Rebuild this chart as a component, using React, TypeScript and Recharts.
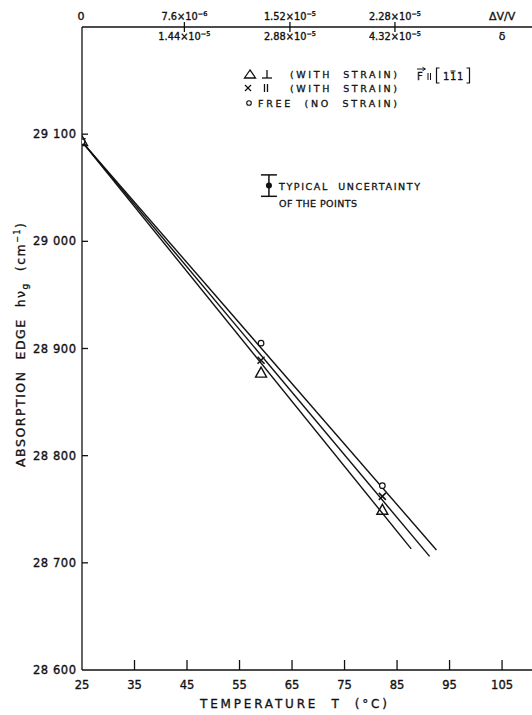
import React from 'react';
import { ComposedChart, Line, Scatter, XAxis, YAxis, ErrorBar } from 'recharts';

const FONT = '"DejaVu Sans", "Liberation Sans", sans-serif';
const INK = '#111';

// Bottom axis: temperature T (°C)
const tempDomain = [25, 110.7];
const tempTicks = [25, 35, 45, 55, 65, 75, 85, 95, 105];

// Left axis: absorption edge h nu_g (cm^-1)
const edgeDomain = [28600, 29200];
const edgeTicks = [28600, 28700, 28800, 28900, 29000, 29100];
const edgeTickLabels = ['28 600', '28 700', '28 800', '28 900', '29 000', '29 100'];

// Top auxiliary scale (ΔV/V upper row, δ lower row), placed at temperatures
const topTickTemps = [25, 44.5, 64.6, 84.6, 105];
const dvvMantissa = ['0', '7.6×10', '1.52×10', '2.28×10', 'ΔV/V'];
const dvvExponent = ['', '−6', '−5', '−5', ''];
const deltaMantissa = ['', '1.44×10', '2.88×10', '4.32×10', 'δ'];
const deltaExponent = ['', '−5', '−5', '−5', ''];

// Straight lines through the points
const perpLineT = [25, 87.7];
const perpLineE = [29093, 28713];
const parLineT = [25, 91.2];
const parLineE = [29093, 28706];
const freeLineT = [25, 92.5];
const freeLineE = [29093, 28712];

// Measured points
const pointT = [25, 59.1, 82.2];
const perpPoints = [29093, 28877, 28749];
const parPoints = [29093, 28889, 28762];
const freePoints = [29093, 28905, 28772];

// Typical uncertainty marker
const uncT = [60.6];
const uncE = [29052];
const uncErr = [10];

const mk = (ts: number[], es: number[]) => ts.map((t, i) => ({ t, e: es[i] }));
const perpLine = mk(perpLineT, perpLineE);
const parLine = mk(parLineT, parLineE);
const freeLine = mk(freeLineT, freeLineE);
const perpData = mk(pointT, perpPoints);
const parData = mk(pointT, parPoints);
const freeData = mk(pointT, freePoints);
const uncData = uncT.map((t, i) => ({ t, e: uncE[i], err: uncErr[i] }));

const BOLDEN = { stroke: INK, strokeWidth: 0.35 } as const;

const BottomTick = (p: any) => {
  const { x, y, payload } = p;
  return (
    <g>
      {payload.value !== tempTicks[0] && (
        <line x1={x} x2={x} y1={y} y2={y - 10} stroke={INK} strokeWidth={1.3} />
      )}
      <text x={x} y={y + 19} textAnchor="middle" fontFamily={FONT} fontSize={11.5} fill={INK} {...BOLDEN}>
        {payload.value}
      </text>
    </g>
  );
};

const LeftTick = (p: any) => {
  const { x, y, payload } = p;
  const i = edgeTicks.indexOf(payload.value);
  return (
    <g>
      {i > 0 && <line x1={x} x2={x + 6} y1={y} y2={y} stroke={INK} strokeWidth={1.3} />}
      <text x={x - 6} y={y + 4} textAnchor="end" fontFamily={FONT} fontSize={11.5} fill={INK}
        textLength={43} lengthAdjust="spacing" {...BOLDEN}>
        {edgeTickLabels[i]}
      </text>
    </g>
  );
};

const RightTick = (p: any) => {
  const { x, y } = p;
  return <line x1={x - 5} x2={x} y1={y} y2={y} stroke={INK} strokeWidth={1.3} />;
};

const TopTick = (p: any) => {
  const { x, y, payload } = p;
  const i = topTickTemps.indexOf(payload.value);
  const last = i === topTickTemps.length - 1;
  const mid = i > 0 && !last;
  const big = i === 0 || last;
  return (
    <g>
      {mid && <line x1={x} x2={x} y1={y - 5} y2={y + 5} stroke={INK} strokeWidth={1.3} />}
      <text x={i === 0 ? x - 1 : x} y={y - 7} textAnchor="middle" fontFamily={FONT}
        fontSize={big ? 11 : 9.8} fill={INK} {...BOLDEN}>
        {dvvMantissa[i]}
        {dvvExponent[i] && <tspan dy={-4} fontSize={6.5}>{dvvExponent[i]}</tspan>}
      </text>
      {deltaMantissa[i] && (
        <text x={x} y={y + 13} textAnchor="middle" fontFamily={FONT}
          fontSize={big ? 11 : 9.8} fill={INK} {...BOLDEN}>
          {deltaMantissa[i]}
          {deltaExponent[i] && <tspan dy={-4} fontSize={6.5}>{deltaExponent[i]}</tspan>}
        </text>
      )}
    </g>
  );
};

const Triangle = (p: any) => {
  const { cx, cy } = p;
  return (
    <polygon
      points={`${cx},${cy - 6} ${cx - 5.5},${cy + 4} ${cx + 5.5},${cy + 4}`}
      fill="none" stroke={INK} strokeWidth={1.4}
    />
  );
};
const Cross = (p: any) => {
  const { cx, cy } = p;
  return (
    <g stroke={INK} strokeWidth={1.5}>
      <line x1={cx - 3.5} y1={cy - 3.5} x2={cx + 3.5} y2={cy + 3.5} />
      <line x1={cx - 3.5} y1={cy + 3.5} x2={cx + 3.5} y2={cy - 3.5} />
    </g>
  );
};
const Ring = (p: any) => {
  const { cx, cy } = p;
  return <circle cx={cx} cy={cy} r={2.8} fill="#fff" stroke={INK} strokeWidth={1.2} />;
};
const Dot = (p: any) => {
  const { cx, cy } = p;
  return <circle cx={cx} cy={cy} r={3} fill={INK} />;
};

const txt = { fontFamily: FONT, fill: INK, stroke: INK, strokeWidth: 0.3 } as const;

export default function App() {
  return (
    <div style={{ position: 'absolute', left: 0, top: 0, width: 532, height: 715, background: '#fff' }}>
      <ComposedChart width={532} height={715} margin={{ top: 0, right: 0, bottom: 0, left: 0 }}>
        <XAxis
          dataKey="t" type="number" domain={tempDomain} ticks={tempTicks} interval={0}
          height={45} tickSize={0} tickMargin={0} tickLine={false} allowDataOverflow
          axisLine={{ stroke: INK, strokeWidth: 1.3 }} tick={(p: any) => <BottomTick {...p} />}
        />
        <XAxis
          xAxisId="top" dataKey="t" orientation="top" type="number" domain={tempDomain} ticks={topTickTemps}
          interval={0} height={27} tickSize={0} tickMargin={0} tickLine={false} allowDataOverflow
          axisLine={{ stroke: INK, strokeWidth: 1.3 }} tick={(p: any) => <TopTick {...p} />}
        />
        <YAxis
          dataKey="e" type="number" domain={edgeDomain} ticks={edgeTicks} interval={0}
          width={82} tickSize={0} tickMargin={0} tickLine={false} allowDataOverflow
          axisLine={{ stroke: INK, strokeWidth: 1.3 }} tick={(p: any) => <LeftTick {...p} />}
        />
        <YAxis
          yAxisId="right" dataKey="e" orientation="right" type="number" domain={edgeDomain}
          ticks={edgeTicks.slice(1)} interval={0} width={0} tickSize={0} tickMargin={0}
          tickLine={false} axisLine={false} allowDataOverflow tick={(p: any) => <RightTick {...p} />}
        />
        {/* invisible carrier so the top and right scales get a domain */}
        <Line data={perpLine} xAxisId="top" yAxisId="right" dataKey="e" type="linear" stroke="none" dot={false} isAnimationActive={false} />
        <Line data={perpLine} dataKey="e" type="linear" stroke={INK} strokeWidth={1.4} dot={false} isAnimationActive={false} />
        <Line data={parLine} dataKey="e" type="linear" stroke={INK} strokeWidth={1.4} dot={false} isAnimationActive={false} />
        <Line data={freeLine} dataKey="e" type="linear" stroke={INK} strokeWidth={1.4} dot={false} isAnimationActive={false} />
        <Scatter data={perpData} shape={(p: any) => <Triangle {...p} />} isAnimationActive={false} />
        <Scatter data={parData} shape={(p: any) => <Cross {...p} />} isAnimationActive={false} />
        <Scatter data={freeData} shape={(p: any) => <Ring {...p} />} isAnimationActive={false} />
        <Scatter data={uncData} shape={(p: any) => <Dot {...p} />} isAnimationActive={false}>
          <ErrorBar dataKey="err" direction="y" width={8} stroke={INK} strokeWidth={1.5} isAnimationActive={false} />
        </Scatter>
      </ComposedChart>
      <svg width={532} height={715} style={{ position: 'absolute', left: 0, top: 0, pointerEvents: 'none' }}>
        {/* Axis titles */}
        <text {...txt} transform="translate(25,345) rotate(-90)" textAnchor="middle" fontSize={12.5}
          textLength={244} lengthAdjust="spacing" style={{ whiteSpace: 'pre' }}>
          {'ABSORPTION  EDGE  hν'}
          <tspan dy={3} fontSize={9}>g</tspan>
          <tspan dy={-3}>{'  (cm'}</tspan>
          <tspan dy={-5} fontSize={8}>−1</tspan>
          <tspan dy={5}>)</tspan>
        </text>
        <text {...txt} x={200} y={708} fontSize={12} textLength={187} lengthAdjust="spacing"
          style={{ whiteSpace: 'pre' }}>
          {'TEMPERATURE  T  (°C)'}
        </text>

        {/* Legend */}
        <polygon points="250,70 244.5,78 255.5,78" fill="none" stroke={INK} strokeWidth={1.3} />
        <g stroke={INK} strokeWidth={1.3}>
          <line x1={267} y1={70} x2={267} y2={78} />
          <line x1={262} y1={78} x2={272} y2={78} />
        </g>
        <text {...txt} x={290} y={78} fontSize={9.5} textLength={107} lengthAdjust="spacing"
          style={{ whiteSpace: 'pre' }}>{'(WITH  STRAIN)'}</text>
        <g stroke={INK} strokeWidth={1.3}>
          <line x1={245} y1={85} x2={251} y2={91} />
          <line x1={245} y1={91} x2={251} y2={85} />
          <line x1={264.5} y1={84} x2={264.5} y2={92} />
          <line x1={267.5} y1={84} x2={267.5} y2={92} />
        </g>
        <text {...txt} x={290} y={92} fontSize={9.5} textLength={107} lengthAdjust="spacing"
          style={{ whiteSpace: 'pre' }}>{'(WITH  STRAIN)'}</text>
        <circle cx={249} cy={103} r={2.3} fill="none" stroke={INK} strokeWidth={1.1} />
        <text {...txt} x={258} y={107} fontSize={9.5} textLength={139} lengthAdjust="spacing"
          style={{ whiteSpace: 'pre' }}>{'FREE  (NO  STRAIN)'}</text>

        {/* Field direction F || [1 -1 1] */}
        <text {...txt} x={417} y={80} fontSize={10}>F</text>
        <g stroke={INK} strokeWidth={1} fill="none">
          <line x1={417} y1={69} x2={425} y2={69} />
          <polyline points="422.5,67.3 425.5,69 422.5,70.7" />
          <line x1={428} y1={73} x2={428} y2={80} />
          <line x1={430.5} y1={73} x2={430.5} y2={80} />
          <polyline points="439.5,68 436.5,68 436.5,83 439.5,83" strokeWidth={1.2} />
          <polyline points="466.5,68 469.5,68 469.5,83 466.5,83" strokeWidth={1.2} />
          <line x1={450.5} y1={71} x2={455.5} y2={71} />
        </g>
        <text {...txt} x={443} y={80} fontSize={10}>1</text>
        <text {...txt} x={450} y={80} fontSize={10}>1</text>
        <text {...txt} x={457} y={80} fontSize={10}>1</text>

        {/* Uncertainty note */}
        <text {...txt} x={279} y={190} fontSize={9.5} textLength={141} lengthAdjust="spacing"
          style={{ whiteSpace: 'pre' }}>{'TYPICAL  UNCERTAINTY'}</text>
        <text {...txt} x={279} y={207} fontSize={9.5} textLength={78} lengthAdjust="spacing">
          {'OF THE POINTS'}
        </text>
      </svg>
    </div>
  );
}
